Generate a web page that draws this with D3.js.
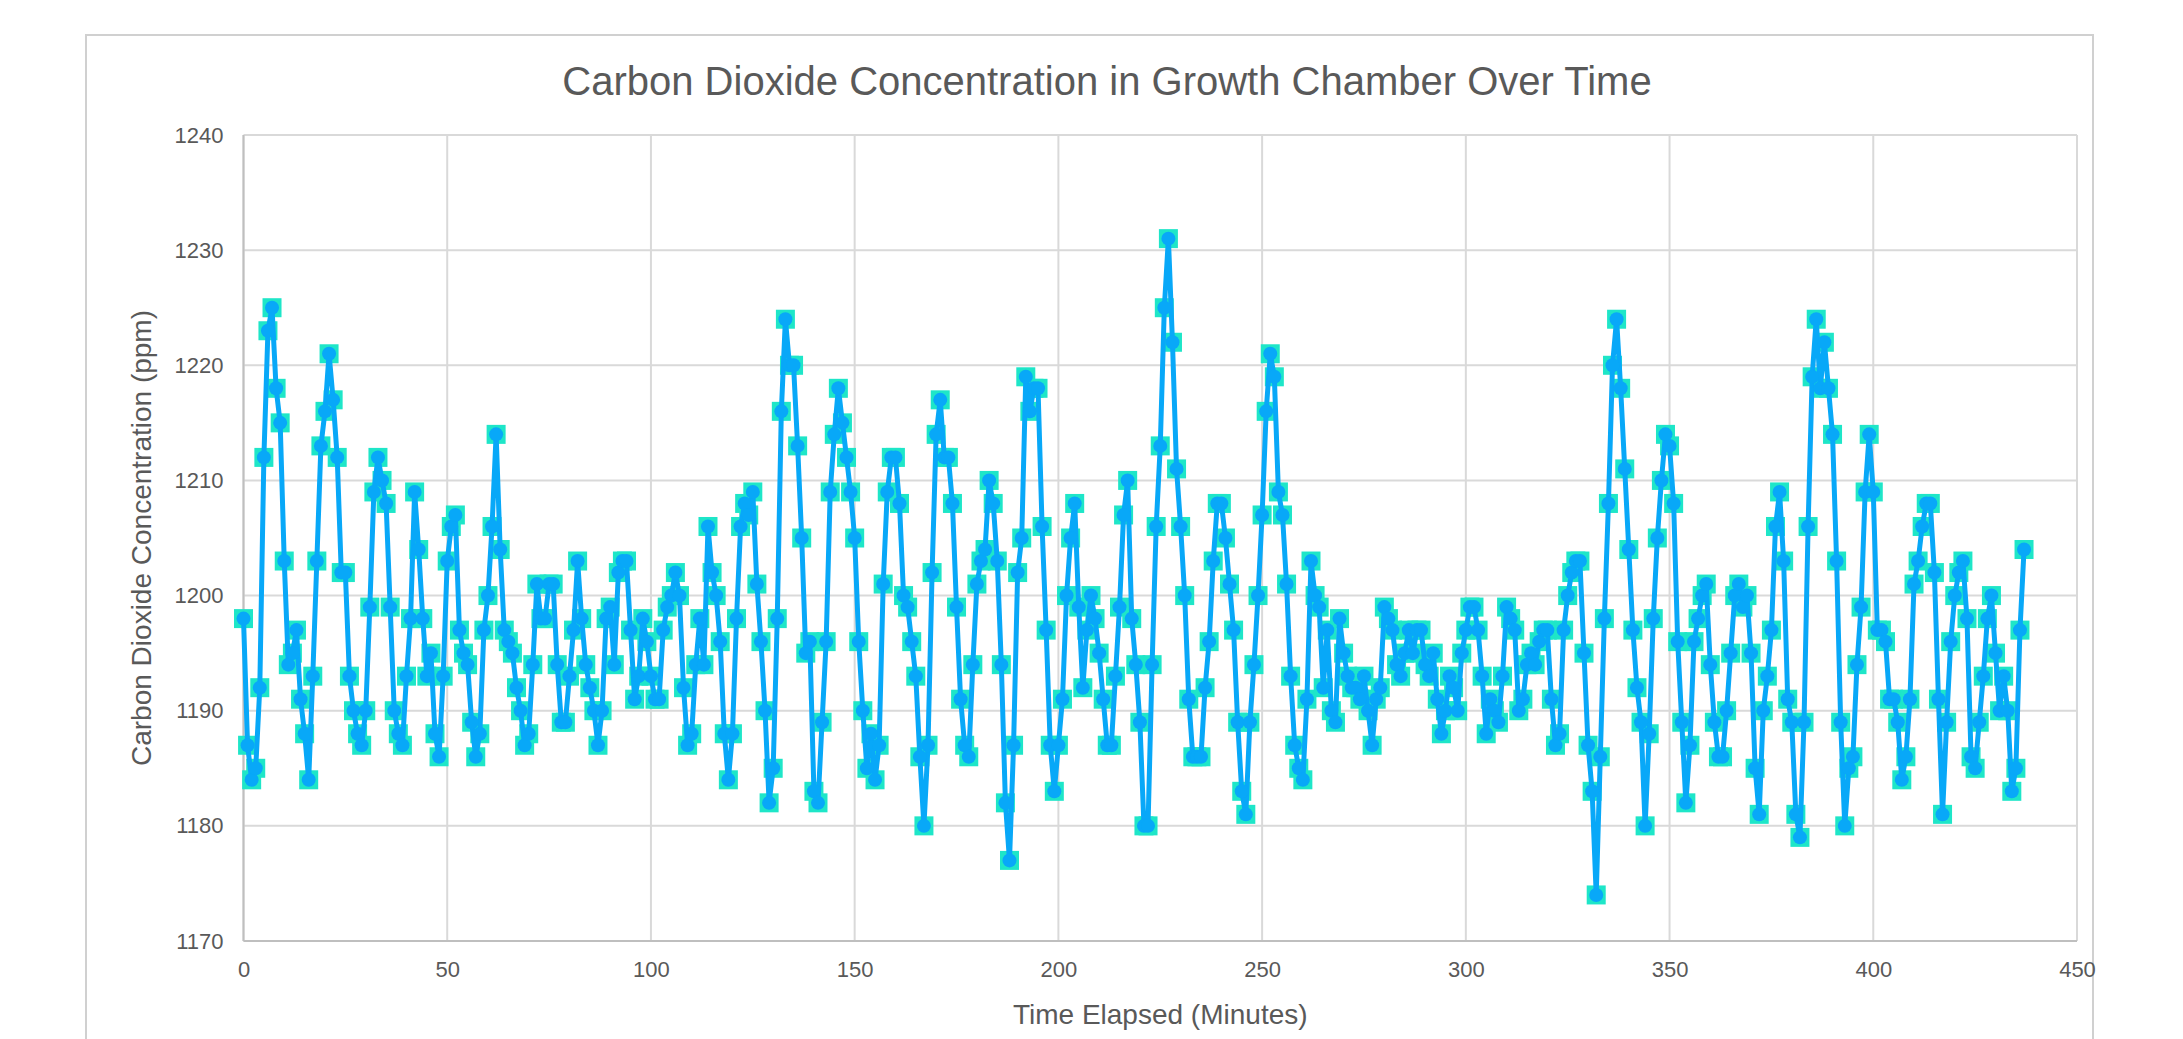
<!DOCTYPE html>
<html>
<head>
<meta charset="utf-8">
<script src="https://cdn.jsdelivr.net/npm/d3@7"></script>
<style>
  body { margin: 0; background: #fff; }
  text { font-family: "Liberation Sans", Arial, Helvetica, sans-serif; fill: #595959; }
</style>
</head>
<body>
<script>
// CO2 readings (ppm), one per minute from minute 0
var co2 = [
  1198,1187,1184,1185,1192,1212,1223,1225,1218,1215, 1203,1194,1195,1197,1191,1188,1184,1193,1203,1213,
  1216,1221,1217,1212,1202,1202,1193,1190,1188,1187, 1190,1199,1209,1212,1210,1208,1199,1190,1188,1187,
  1193,1198,1209,1204,1198,1193,1195,1188,1186,1193, 1203,1206,1207,1197,1195,1194,1189,1186,1188,1197,
  1200,1206,1214,1204,1197,1196,1195,1192,1190,1187, 1188,1194,1201,1198,1198,1201,1201,1194,1189,1189,
  1193,1197,1203,1198,1194,1192,1190,1187,1190,1198, 1199,1194,1202,1203,1203,1197,1191,1193,1198,1196,
  1193,1191,1191,1197,1199,1200,1202,1200,1192,1187, 1188,1194,1198,1194,1206,1202,1200,1196,1188,1184,
  1188,1198,1206,1208,1207,1209,1201,1196,1190,1182, 1185,1198,1216,1224,1220,1220,1213,1205,1195,1196,
  1183,1182,1189,1196,1209,1214,1218,1215,1212,1209, 1205,1196,1190,1185,1188,1184,1187,1201,1209,1212,
  1212,1208,1200,1199,1196,1193,1186,1180,1187,1202, 1214,1217,1212,1212,1208,1199,1191,1187,1186,1194,
  1201,1203,1204,1210,1208,1203,1194,1182,1177,1187, 1202,1205,1219,1216,1218,1218,1206,1197,1187,1183,
  1187,1191,1200,1205,1208,1199,1192,1197,1200,1198, 1195,1191,1187,1187,1193,1199,1207,1210,1198,1194,
  1189,1180,1180,1194,1206,1213,1225,1231,1222,1211, 1206,1200,1191,1186,1186,1186,1192,1196,1203,1208,
  1208,1205,1201,1197,1189,1183,1181,1189,1194,1200, 1207,1216,1221,1219,1209,1207,1201,1193,1187,1185,
  1184,1191,1203,1200,1199,1192,1197,1190,1189,1198, 1195,1193,1192,1192,1191,1193,1190,1187,1191,1192,
  1199,1198,1197,1194,1193,1195,1197,1195,1197,1197, 1194,1193,1195,1191,1188,1190,1193,1192,1190,1195,
  1197,1199,1199,1197,1193,1188,1191,1190,1189,1193, 1199,1198,1197,1190,1191,1194,1195,1194,1196,1197,
  1197,1191,1187,1188,1197,1200,1202,1203,1203,1195, 1187,1183,1174,1186,1198,1208,1220,1224,1218,1211,
  1204,1197,1192,1189,1180,1188,1198,1205,1210,1214, 1213,1208,1196,1189,1182,1187,1196,1198,1200,1201,
  1194,1189,1186,1186,1190,1195,1200,1201,1199,1200, 1195,1185,1181,1190,1193,1197,1206,1209,1203,1191,
  1189,1181,1179,1189,1206,1219,1224,1218,1222,1218, 1214,1203,1189,1180,1185,1186,1194,1199,1209,1214,
  1209,1197,1197,1196,1191,1191,1189,1184,1186,1191, 1201,1203,1206,1208,1208,1202,1191,1181,1189,1196,
  1200,1202,1203,1198,1186,1185,1189,1193,1198,1200, 1195,1190,1193,1190,1183,1185,1197,1204
];
var xTicks = [0, 50, 100, 150, 200, 250, 300, 350, 400, 450];
var yTicks = [1170, 1180, 1190, 1200, 1210, 1220, 1230, 1240];

var chartTitle = "Carbon Dioxide Concentration in Growth Chamber Over Time";
var xTitle = "Time Elapsed (Minutes)";
var yTitle = "Carbon Dioxide Concentration (ppm)";

var W = 2183, H = 1039;
var margin = {left: 243.5, right: W - 2077, top: 135, bottom: H - 941};
var width = W - margin.left - margin.right;
var height = H - margin.top - margin.bottom;

var svg = d3.select("body").append("svg").attr("width", W).attr("height", H);

// chart frame
svg.append("rect")
  .attr("x", 86).attr("y", 35).attr("width", 2093 - 86).attr("height", H)
  .attr("fill", "#fff").attr("stroke", "#d0d0d0").attr("stroke-width", 2);

var x = d3.scaleLinear().domain([0, 450]).range([0, width]);
var y = d3.scaleLinear().domain([1170, 1240]).range([height, 0]);

var g = svg.append("g").attr("transform", "translate(" + margin.left + "," + margin.top + ")");

// grid
g.append("g").attr("class", "grid")
  .selectAll("line.h").data(yTicks).enter().append("line")
  .attr("x1", 0).attr("x2", width)
  .attr("y1", function(d){ return y(d); }).attr("y2", function(d){ return y(d); })
  .attr("stroke", "#d9d9d9").attr("stroke-width", 2);
g.append("g").attr("class", "grid")
  .selectAll("line.v").data(xTicks).enter().append("line")
  .attr("x1", function(d){ return x(d); }).attr("x2", function(d){ return x(d); })
  .attr("y1", 0).attr("y2", height)
  .attr("stroke", "#d9d9d9").attr("stroke-width", 2);

// axes (labels only)
var xAxis = g.append("g").attr("transform", "translate(0," + height + ")")
  .call(d3.axisBottom(x).tickValues(xTicks).tickSize(0).tickPadding(20).tickFormat(d3.format("d")));
var yAxis = g.append("g")
  .call(d3.axisLeft(y).tickValues(yTicks).tickSize(0).tickPadding(20).tickFormat(d3.format("d")));
[xAxis, yAxis].forEach(function(a){
  a.select(".domain").remove();
  a.selectAll("text").attr("font-size", 22).attr("fill", "#595959")
    .attr("font-family", "'Liberation Sans', Arial, sans-serif");
});
g.append("line").attr("x1", 0).attr("x2", width).attr("y1", height).attr("y2", height)
  .attr("stroke", "#bfbfbf").attr("stroke-width", 2);
g.append("line").attr("x1", 0).attr("x2", 0).attr("y1", 0).attr("y2", height)
  .attr("stroke", "#bfbfbf").attr("stroke-width", 2);

// series
var pts = co2.map(function(v, i){ return {t: i, v: v}; });
var line = d3.line().x(function(d){ return x(d.t); }).y(function(d){ return y(d.v); });

g.append("g").selectAll("rect").data(pts).enter().append("rect")
  .attr("x", function(d){ return x(d.t) - 9.5; })
  .attr("y", function(d){ return y(d.v) - 9.5; })
  .attr("width", 19).attr("height", 19)
  .attr("fill", "#1ee6c8");
g.append("path").datum(pts).attr("d", line)
  .attr("fill", "none").attr("stroke", "#08a8f8").attr("stroke-width", 5)
  .attr("stroke-linejoin", "round");
g.append("g").selectAll("circle").data(pts).enter().append("circle")
  .attr("cx", function(d){ return x(d.t); })
  .attr("cy", function(d){ return y(d.v); })
  .attr("r", 7).attr("fill", "#08a8f8");

// titles
svg.append("text").attr("x", 1107).attr("y", 95)
  .attr("text-anchor", "middle").attr("font-size", 40).text(chartTitle);
svg.append("text").attr("x", margin.left + width / 2).attr("y", 1024)
  .attr("text-anchor", "middle").attr("font-size", 28).text(xTitle);
svg.append("text")
  .attr("transform", "translate(151," + (margin.top + height / 2) + ") rotate(-90)")
  .attr("text-anchor", "middle").attr("font-size", 28).text(yTitle);
</script>
</body>
</html>
